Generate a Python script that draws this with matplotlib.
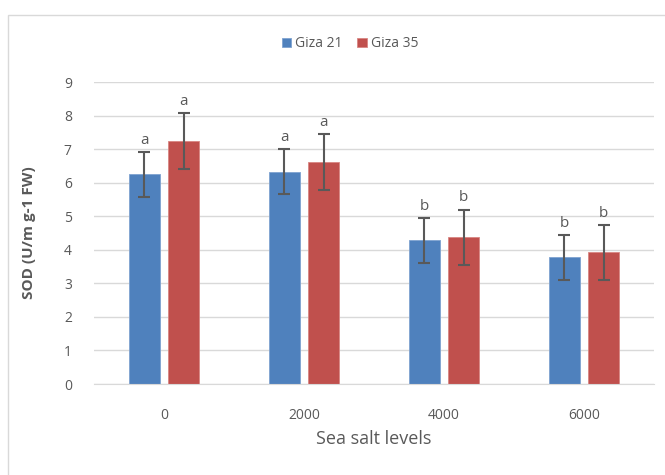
import numpy as np
import matplotlib
matplotlib.use('Agg')
import matplotlib.pyplot as plt
from matplotlib.patches import Rectangle

# Data
levels    = ['0', '2000', '4000', '6000']
giza21    = [6.25, 6.33, 4.28, 3.77]
giza21Err = [0.67, 0.67, 0.67, 0.67]
giza35    = [7.25, 6.62, 4.37, 3.92]
giza35Err = [0.83, 0.83, 0.83, 0.83]
letters21 = ['a', 'a', 'b', 'b']
letters35 = ['a', 'a', 'b', 'b']

textColor = '#595959'
plt.rcParams['font.family'] = ['Open Sans', 'DejaVu Sans']

fig = plt.figure(figsize=(6.65, 4.75), dpi=100)
fig.patches.append(Rectangle((8/665, -0.1), 1.1, 1 - 15/475 + 0.1,
                             transform=fig.transFigure, fill=False,
                             edgecolor='#d9d9d9', linewidth=1.0))

ax = fig.add_axes([94/665, 91/475, 560/665, 302/475])

x      = np.arange(len(levels))
width  = 0.22
offset = 0.14

errKw = dict(ecolor='#595959', elinewidth=1.5, capsize=4, capthick=1.5)
b1 = ax.bar(x - offset, giza21, width, color='#4F81BD', edgecolor='#7fa3d0',
            linewidth=0.6, yerr=giza21Err, error_kw=errKw, label='Giza 21', zorder=2)
b2 = ax.bar(x + offset, giza35, width, color='#C0504D', edgecolor='#d98683',
            linewidth=0.6, yerr=giza35Err, error_kw=errKw, label='Giza 35', zorder=2)

for xi, v, e, s in zip(x - offset, giza21, giza21Err, letters21):
    ax.text(xi, v + e + 0.12, s, ha='center', va='bottom', fontsize=11, color=textColor)
for xi, v, e, s in zip(x + offset, giza35, giza35Err, letters35):
    ax.text(xi, v + e + 0.12, s, ha='center', va='bottom', fontsize=11, color=textColor)

ax.set_xlim(-0.5, 3.5)
ax.set_ylim(0, 9)
ax.set_yticks(range(0, 10))
ax.set_xticks(x)
ax.set_xticklabels(levels)
ax.yaxis.grid(True, color='#d9d9d9', linewidth=1.0, zorder=0)
ax.set_axisbelow(True)
for sp in ['top', 'right', 'left']:
    ax.spines[sp].set_visible(False)
ax.spines['bottom'].set_color('#d9d9d9')
ax.tick_params(axis='both', length=0, labelsize=10, colors=textColor)
ax.tick_params(axis='y', pad=16)
ax.tick_params(axis='x', pad=17)

ax.set_ylabel('SOD (U/m g-1 FW)', fontsize=11, fontweight='bold', color=textColor, labelpad=20)
ax.set_xlabel('Sea salt levels', fontsize=13, color=textColor, labelpad=5)

ax.legend(loc='lower center', bbox_to_anchor=(0.457, 1.06), ncol=2, frameon=False,
          fontsize=10, labelcolor=textColor, handlelength=0.7, handleheight=0.7,
          handletextpad=0.3, columnspacing=1.0)

plt.savefig('out.png', dpi=100)
plt.close()
